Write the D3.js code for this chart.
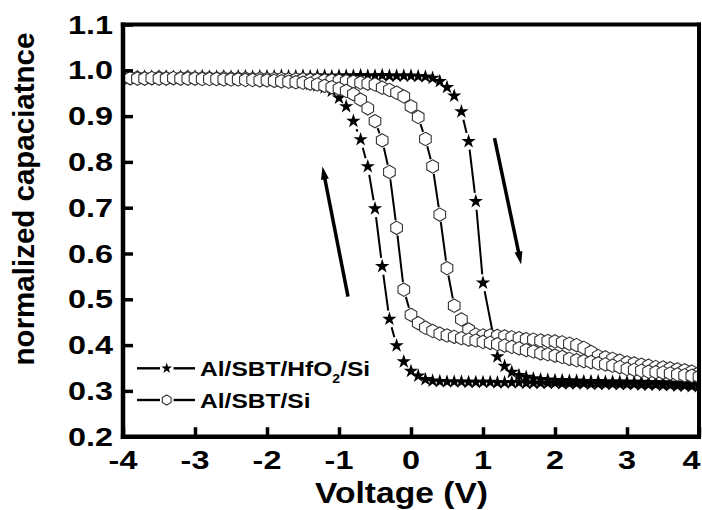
<!DOCTYPE html>
<html><head><meta charset="utf-8">
<script src="https://cdn.jsdelivr.net/npm/d3@7"></script>
<style>
body{margin:0;background:#fff}
svg{display:block}
text{font-family:"Liberation Sans",Arial,Helvetica,sans-serif;font-weight:bold;fill:#000}
</style>
</head><body>
<svg id="chart" width="702" height="510"></svg>
<script>
// ---------------- data ----------------
const voltage = [
 -4.0,-3.9,-3.8,-3.7,-3.6,-3.5,-3.4,-3.3,-3.2,-3.1,
 -3.0,-2.9,-2.8,-2.7,-2.6,-2.5,-2.4,-2.3,-2.2,-2.1,
 -2.0,-1.9,-1.8,-1.7,-1.6,-1.5,-1.4,-1.3,-1.2,-1.1,
 -1.0,-0.9,-0.8,-0.7,-0.6,-0.5,-0.4,-0.3,-0.2,-0.1,
  0.0, 0.1, 0.2, 0.3, 0.4, 0.5, 0.6, 0.7, 0.8, 0.9,
  1.0, 1.1, 1.2, 1.3, 1.4, 1.5, 1.6, 1.7, 1.8, 1.9,
  2.0, 2.1, 2.2, 2.3, 2.4, 2.5, 2.6, 2.7, 2.8, 2.9,
  3.0, 3.1, 3.2, 3.3, 3.4, 3.5, 3.6, 3.7, 3.8, 3.9,
  4.0];

// Al/SBT/HfO2/Si, sweep -4 -> +4
const starForward = [
 0.985,0.986,0.985,0.986,0.985,0.986,0.986,0.985,0.986,0.986,
 0.986,0.987,0.986,0.986,0.987,0.986,0.987,0.987,0.986,0.987,
 0.987,0.987,0.988,0.987,0.987,0.988,0.987,0.988,0.988,0.987,
 0.988,0.988,0.988,0.989,0.988,0.988,0.989,0.988,0.988,0.988,
 0.988,0.987,0.986,0.983,0.976,0.963,0.944,0.910,0.845,0.714,
 0.536,null, 0.375,0.354,0.341,0.334,0.330,0.327,0.325,0.324,
 0.323,0.323,0.322,0.322,0.321,0.321,0.321,0.320,0.320,0.320,
 0.319,0.319,0.319,0.318,0.318,0.318,0.317,0.317,0.316,0.316,
 0.315];
// Al/SBT/HfO2/Si, sweep +4 -> -4 (listed by voltage)
const starReverse = [
 0.984,0.984,0.985,0.984,0.985,0.984,0.985,0.984,0.984,0.985,
 0.984,0.984,0.983,0.984,0.983,0.983,0.982,0.982,0.981,0.981,
 0.980,0.979,0.978,0.977,0.975,0.973,0.970,0.966,0.962,0.955,
 0.940,0.921,0.889,0.849,0.790,0.698,0.572,0.457,0.399,0.364,
 0.343,0.333,0.325,0.322,0.321,0.320,0.320,0.320,0.319,0.319,
 0.319,0.319,0.318,0.318,0.318,0.318,0.317,0.317,0.317,0.317,
 0.317,0.316,0.316,0.316,0.316,0.315,0.315,0.315,0.315,0.314,
 0.314,0.314,0.313,0.313,0.313,0.312,0.312,0.311,0.311,0.310,
 0.310];
// Al/SBT/Si, sweep -4 -> +4
const hexForward = [
 0.983,0.983,0.984,0.983,0.983,0.984,0.983,0.983,0.983,0.984,
 0.983,0.983,0.983,0.982,0.983,0.982,0.982,0.982,0.981,0.982,
 0.981,0.981,0.981,0.980,0.980,0.980,0.979,0.979,0.978,0.978,
 0.977,0.976,0.975,0.973,0.971,0.969,0.962,0.957,0.951,0.943,
 0.921,0.898,0.850,0.790,0.685,0.568,0.486,0.456,0.434,0.423,
 0.421,0.421,0.420,0.419,0.417,0.415,0.413,0.412,0.410,0.409,
 0.408,0.406,0.403,0.400,0.394,0.385,0.376,0.373,0.370,0.366,
 0.362,0.360,0.357,0.355,0.352,0.351,0.349,0.347,0.345,0.342,
 0.339];
// Al/SBT/Si, sweep +4 -> -4 (listed by voltage)
const hexReverse = [
 0.982,0.983,0.982,0.982,0.983,0.982,0.982,0.983,0.982,0.982,
 0.982,0.981,0.981,0.981,0.980,0.980,0.980,0.979,0.979,0.978,
 0.978,0.977,0.976,0.975,0.974,0.973,0.971,0.969,0.966,0.963,
 0.960,0.955,0.948,0.936,0.917,0.889,0.847,0.778,0.656,0.521,
 0.466,0.448,0.438,0.431,0.425,0.421,0.418,0.415,0.412,0.410,
 0.407,0.405,0.402,0.399,0.396,0.393,0.389,0.386,0.382,0.380,
 0.377,0.374,0.370,0.367,0.365,0.363,0.360,0.358,0.355,0.352,
 0.348,0.346,0.344,0.342,0.341,0.340,0.338,0.336,0.334,0.333,
 0.331];

const xTicks = [-4,-3,-2,-1,0,1,2,3,4];
const yTicks = [0.2,0.3,0.4,0.5,0.6,0.7,0.8,0.9,1.0,1.1];
const xTitle = "Voltage (V)";
const yTitle = "normalized capaciatnce";
const legendNames = [["Al/SBT/HfO","2","/Si"],["Al/SBT/Si"]];
// sweep-direction arrows, in data units [V, C]: tail -> tip
const arrowUp = [[-0.875,0.506],[-1.23,0.790]];
const arrowDown = [[1.16,0.852],[1.53,0.576]];

// ---------------- layout ----------------
const W = 702, H = 510;
const margin = {top:24.5, right:3, bottom:73.3, left:123};
const svg = d3.select("#chart");
svg.append("rect").attr("width",W).attr("height",H).attr("fill","#fff");

const x = d3.scaleLinear().domain([-4,4]).range([margin.left, W-margin.right]);
const y = d3.scaleLinear().domain([0.2,1.1]).range([H-margin.bottom, margin.top]);

svg.append("defs").append("clipPath").attr("id","plotclip")
  .append("rect").attr("x",x(-4)).attr("y",y(1.1)).attr("width",x(4)-x(-4)).attr("height",y(0.2)-y(1.1));

// hexagon symbol type (pointy top)
const symbolHex = {
  draw(ctx, size){
    const r = Math.sqrt(size/(3*Math.sqrt(3)/2));
    for(let i=0;i<6;i++){
      const a = -Math.PI/2 + i*Math.PI/3;
      const px = r*Math.cos(a), py = r*Math.sin(a);
      if(i===0) ctx.moveTo(px,py); else ctx.lineTo(px,py);
    }
    ctx.closePath();
  }
};

const series = [
  {branches:[starForward,starReverse], type:d3.symbolStar, size:64, legSize:36, fill:"#000", stroke:"none", sw:0, gap:8.5},
  {branches:[hexForward,hexReverse], type:symbolHex, size:117, legSize:66, fill:"#fff", stroke:"#333", sw:1.1, gap:7.5}
];

const line = d3.line();
const plot = svg.append("g").attr("clip-path","url(#plotclip)");

function points(arr){
  return voltage.map((v,i)=>[v,arr[i]]).filter(d=>d[1]!=null);
}
// connecting line drawn with a small gap around each symbol
function gappedSegments(pts, g){
  const segs=[];
  for(let i=0;i<pts.length-1;i++){
    const p0=[x(pts[i][0]),y(pts[i][1])], p1=[x(pts[i+1][0]),y(pts[i+1][1])];
    const dx=p1[0]-p0[0], dy=p1[1]-p0[1], d=Math.hypot(dx,dy);
    if(d>2*g+1){
      const ux=dx/d, uy=dy/d;
      segs.push([[p0[0]+ux*g,p0[1]+uy*g],[p1[0]-ux*g,p1[1]-uy*g]]);
    }
  }
  return segs;
}

series.forEach(s=>{
  const g = plot.append("g");
  s.branches.forEach(arr=>{
    const pts = points(arr);
    g.append("g").selectAll("path").data(gappedSegments(pts,s.gap)).join("path")
      .attr("d",line).attr("fill","none").attr("stroke","#000").attr("stroke-width",2);
  });
  s.branches.forEach(arr=>{
    const pts = points(arr);
    g.append("g").selectAll("path").data(pts).join("path")
      .attr("transform",d=>`translate(${x(d[0])},${y(d[1])})`)
      .attr("d",d3.symbol(s.type,s.size))
      .attr("fill",s.fill).attr("stroke",s.stroke).attr("stroke-width",s.sw);
  });
});

// arrows
function drawArrow(a){
  const p0=[x(a[0][0]),y(a[0][1])], p1=[x(a[1][0]),y(a[1][1])];
  const dx=p1[0]-p0[0], dy=p1[1]-p0[1], d=Math.hypot(dx,dy), ux=dx/d, uy=dy/d;
  const hl=13, hw=4;
  const b=[p1[0]-ux*hl,p1[1]-uy*hl];
  svg.append("path").attr("d",line([p0,[b[0]+ux*2,b[1]+uy*2]]))
    .attr("stroke","#000").attr("stroke-width",3.5).attr("fill","none");
  svg.append("path").attr("d",line([p1,[b[0]-uy*hw,b[1]+ux*hw],[b[0]+uy*hw,b[1]-ux*hw]])+"Z")
    .attr("fill","#000");
}
drawArrow(arrowUp);
drawArrow(arrowDown);

// axes ticks (inward)
const yAxis = svg.append("g").attr("transform",`translate(${x(-4)},0)`)
  .call(d3.axisLeft(y).tickValues(yTicks).tickSize(-10).tickFormat(""));
const xAxis = svg.append("g").attr("transform",`translate(0,${y(0.2)})`)
  .call(d3.axisBottom(x).tickValues(xTicks).tickSize(-9.5).tickFormat(""));
[yAxis,xAxis].forEach(a=>{
  a.select(".domain").remove();
  a.selectAll(".tick line").attr("stroke","#000").attr("stroke-width",3.5);
});

// frame
const frame = svg.append("g").attr("stroke","#000").attr("fill","none");
frame.append("line").attr("x1",x(-4)).attr("x2",x(-4)).attr("y1",y(1.1)-2).attr("y2",y(0.2)+2.2).attr("stroke-width",4.5);
frame.append("line").attr("x1",x(-4)-2.2).attr("x2",x(4)+2).attr("y1",y(0.2)).attr("y2",y(0.2)).attr("stroke-width",4.5);
frame.append("line").attr("x1",x(-4)-2.2).attr("x2",x(4)+2).attr("y1",y(1.1)).attr("y2",y(1.1)).attr("stroke-width",4);
frame.append("line").attr("x1",x(4)).attr("x2",x(4)).attr("y1",y(1.1)-2).attr("y2",y(0.2)+2.2).attr("stroke-width",4);

// tick labels
const fmtY = d3.format(".1f");
svg.append("g").selectAll("text").data(yTicks).join("text")
  .attr("transform",d=>`translate(${x(-4)-10},${y(d)}) scale(1.27,1)`)
  .attr("text-anchor","end").attr("dy","0.36em").style("font-size","25.5px")
  .text(fmtY);
svg.append("g").selectAll("text").data(xTicks).join("text")
  .attr("transform",d=>`translate(${Math.min(x(d), W-10.5)},${y(0.2)+32.5}) scale(1.27,1)`)
  .attr("text-anchor","middle").style("font-size","25.5px")
  .text(d=>String(d));

// axis titles
svg.append("text").attr("transform","translate(401.5,502.5) scale(1.12,1)")
  .attr("text-anchor","middle").style("font-size","30px").text(xTitle);
svg.append("text").attr("transform","translate(34,199) rotate(-90)")
  .attr("text-anchor","middle").style("font-size","29.5px").text(yTitle);

// legend
const leg = svg.append("g");
const legRows = [368.3, 400];
series.forEach((s,i)=>{
  const yy = legRows[i];
  leg.append("path").attr("d",line([[137,yy],[160,yy]])).attr("stroke","#000").attr("stroke-width",2.4);
  leg.append("path").attr("d",line([[173.5,yy],[195,yy]])).attr("stroke","#000").attr("stroke-width",2.4);
  leg.append("path").attr("transform",`translate(166.7,${yy})`)
    .attr("d",d3.symbol(s.type,s.legSize)).attr("fill",s.fill).attr("stroke",s.stroke).attr("stroke-width",s.sw);
  const t = leg.append("text").attr("transform",`translate(200,${yy+7.7}) scale(1.17,1)`).style("font-size","21px");
  const parts = legendNames[i];
  t.append("tspan").text(parts[0]);
  if(parts.length>1){
    t.append("tspan").attr("dy",7).style("font-size","12px").text(parts[1]);
    t.append("tspan").attr("dy",-7).text(parts[2]);
  }
});
</script>
</body></html>
